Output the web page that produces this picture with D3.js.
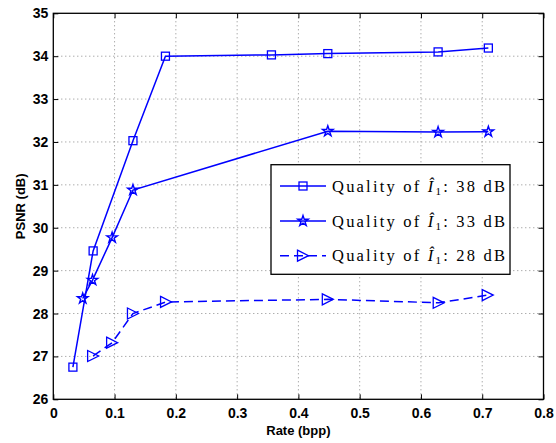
<!DOCTYPE html>
<html>
<head>
<meta charset="utf-8">
<script src="https://cdn.jsdelivr.net/npm/d3@7"></script>
<style>
  html, body { margin: 0; padding: 0; background: #fff; }
  svg { display: block; }
</style>
</head>
<body>
<svg id="chart" width="556" height="443"></svg>
<script>
// Rate (bpp) vs PSNR (dB) for three qualities of the reference image
const rate38 = [0.032, 0.065, 0.130, 0.183, 0.356, 0.448, 0.628, 0.710];
const psnr38 = [26.75, 29.46, 32.03, 34.00, 34.03, 34.06, 34.10, 34.19];

const rate33 = [0.048, 0.064, 0.096, 0.130, 0.448, 0.628, 0.710];
const psnr33 = [28.35, 28.78, 29.77, 30.88, 32.25, 32.23, 32.24];

const rate28 = [0.065, 0.096, 0.130, 0.184, 0.448, 0.629, 0.709];
const psnr28 = [27.01, 27.32, 28.00, 28.27, 28.33, 28.25, 28.43];

const seriesLabels = ["38 dB", "33 dB", "28 dB"];
const xTicks = [0, 0.1, 0.2, 0.3, 0.4, 0.5, 0.6, 0.7, 0.8];
const yTicks = [26, 27, 28, 29, 30, 31, 32, 33, 34, 35];

const blue = "#0000ff";
const svg = d3.select("#chart");

const plotL = 53.3, plotR = 543.5, plotT = 13.3, plotB = 399.3;
const x = d3.scaleLinear().domain([0, 0.8]).range([plotL, plotR]);
const y = d3.scaleLinear().domain([26, 35]).range([plotB, plotT]);

// dotted grid
const grid = svg.append("g").attr("stroke", "#8a8a8a").attr("stroke-width", 1)
  .attr("stroke-dasharray", "1,3");
xTicks.slice(1, -1).forEach(t => {
  grid.append("line").attr("x1", x(t)).attr("x2", x(t)).attr("y1", plotT).attr("y2", plotB);
});
yTicks.slice(1, -1).forEach(t => {
  grid.append("line").attr("x1", plotL).attr("x2", plotR).attr("y1", y(t)).attr("y2", y(t));
});

// axes with inward ticks on all four sides
const fmtX = d => d === 0 ? "0" : d3.format(".1f")(d);
const axB = svg.append("g").attr("transform", `translate(0,${plotB})`)
  .call(d3.axisBottom(x).tickValues(xTicks).tickFormat(fmtX).tickSizeInner(-5).tickSizeOuter(0).tickPadding(9));
const axT = svg.append("g").attr("transform", `translate(0,${plotT})`)
  .call(d3.axisTop(x).tickValues(xTicks).tickFormat("").tickSizeInner(-5).tickSizeOuter(0));
const axL = svg.append("g").attr("transform", `translate(${plotL},0)`)
  .call(d3.axisLeft(y).tickValues(yTicks).tickFormat(d3.format("d")).tickSizeInner(-5).tickSizeOuter(0).tickPadding(5));
const axR = svg.append("g").attr("transform", `translate(${plotR},0)`)
  .call(d3.axisRight(y).tickValues(yTicks).tickFormat("").tickSizeInner(-5).tickSizeOuter(0));

[axB, axT, axL, axR].forEach(a => {
  a.select(".domain").remove();
  a.selectAll(".tick line").attr("stroke", "#000").attr("stroke-width", 1);
  a.selectAll("text").attr("font-family", "Liberation Sans, Arial, sans-serif")
    .attr("font-weight", "bold").attr("font-size", 14).attr("fill", "#000");
});

svg.append("rect").attr("x", plotL).attr("y", plotT)
  .attr("width", plotR - plotL).attr("height", plotB - plotT)
  .attr("fill", "none").attr("stroke", "#000").attr("stroke-width", 1.3);

// axis titles
svg.append("text").attr("x", (plotL + plotR) / 2).attr("y", 435)
  .attr("text-anchor", "middle").attr("font-family", "Liberation Sans, Arial, sans-serif")
  .attr("font-weight", "bold").attr("font-size", 13).text("Rate (bpp)");
svg.append("text").attr("transform", `translate(25,${(plotT + plotB) / 2}) rotate(-90)`)
  .attr("text-anchor", "middle").attr("font-family", "Liberation Sans, Arial, sans-serif")
  .attr("font-weight", "bold").attr("font-size", 13).text("PSNR (dB)");

// marker shapes
function drawMarker(g, kind, cx, cy) {
  if (kind === "square") {
    g.append("rect").attr("x", cx - 4).attr("y", cy - 4).attr("width", 8).attr("height", 8)
      .attr("fill", "none").attr("stroke", blue).attr("stroke-width", 1.3);
  } else if (kind === "star") {
    const sym = d3.symbol().type(d3.symbolStar).size(34);
    g.append("path").attr("d", sym()).attr("transform", `translate(${cx},${cy})`)
      .attr("fill", "none").attr("stroke", blue).attr("stroke-width", 1.4);
  } else {
    const r = 5.5;
    g.append("path").attr("d", `M${cx - r},${cy - r}L${cx + r},${cy}L${cx - r},${cy + r}Z`)
      .attr("fill", "none").attr("stroke", blue).attr("stroke-width", 1.3);
  }
}

const series = [
  { xs: rate38, ys: psnr38, marker: "square", dash: null },
  { xs: rate33, ys: psnr33, marker: "star", dash: null },
  { xs: rate28, ys: psnr28, marker: "tri", dash: "9,5" }
];

const line = d3.line().x(d => x(d[0])).y(d => y(d[1]));
series.forEach(s => {
  const pts = s.xs.map((v, i) => [v, s.ys[i]]);
  const g = svg.append("g");
  g.append("path").attr("d", line(pts)).attr("fill", "none").attr("stroke", blue)
    .attr("stroke-width", 1.5).attr("stroke-dasharray", s.dash);
  pts.forEach(p => drawMarker(g, s.marker, x(p[0]), y(p[1])));
});

// legend
const lg = svg.append("g");
lg.append("rect").attr("x", 271).attr("y", 164.7).attr("width", 239).attr("height", 109.6)
  .attr("fill", "#fff").attr("stroke", "#000").attr("stroke-width", 1.3);
const rowY = [186, 221, 255.7];
series.forEach((s, i) => {
  lg.append("line").attr("x1", 280).attr("x2", 326).attr("y1", rowY[i]).attr("y2", rowY[i])
    .attr("stroke", blue).attr("stroke-width", 1.5).attr("stroke-dasharray", s.dash);
  drawMarker(lg, s.marker, 303, rowY[i]);
  const t = lg.append("text").attr("x", 332).attr("y", rowY[i] + 5.5)
    .attr("font-family", "Liberation Serif, DejaVu Serif, serif").attr("font-size", 16.5)
    .attr("fill", "#000").attr("textLength", 173).attr("lengthAdjust", "spacing");
  t.append("tspan").text("Quality of ");
  t.append("tspan").attr("font-style", "italic").text("Î");
  t.append("tspan").attr("font-size", 11).attr("dy", 3).text("1");
  t.append("tspan").attr("dy", -3).text(": " + seriesLabels[i]);
});
</script>
</body>
</html>
